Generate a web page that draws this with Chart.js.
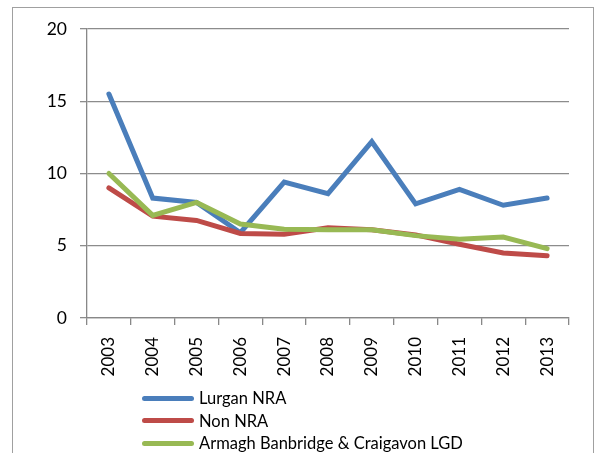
<!DOCTYPE html>
<html>
<head>
<meta charset="utf-8">
<script src="https://cdn.jsdelivr.net/npm/chart.js@4"></script>
<style>
  html, body { margin: 0; padding: 0; background: #fff; }
  body { width: 595px; height: 453px; position: relative; overflow: hidden; font-family: Lato, "Open Sans", sans-serif; }
  #frame { position: absolute; left: 12px; top: 7px; width: 582px; height: 460px; border: 1px solid #a0a0a0; box-sizing: border-box; }
  #wrap { position: absolute; left: 0; top: 0; width: 595px; height: 453px; }
  #legend { position: absolute; left: 142px; top: 387px; font-size: 16.5px; color: #000; }
  .li { height: 22.5px; display: flex; align-items: center; }
  .sw { width: 52px; height: 5px; border-radius: 3px; margin-right: 5px; }
</style>
</head>
<body>
<div id="frame"></div>
<div id="wrap"><canvas id="c" width="595" height="453"></canvas></div>
<div id="legend"></div>
<script>
const years = ["2003","2004","2005","2006","2007","2008","2009","2010","2011","2012","2013"];
const lurganNRA = [15.5, 8.3, 8.0, 5.9, 9.4, 8.6, 12.2, 7.9, 8.9, 7.8, 8.3];
const nonNRA = [9.0, 7.05, 6.75, 5.85, 5.8, 6.25, 6.1, 5.75, 5.1, 4.5, 4.3];
const abcLGD = [10.0, 7.1, 8.0, 6.5, 6.15, 6.1, 6.1, 5.7, 5.45, 5.6, 4.8];
const seriesNames = ["Lurgan NRA", "Non NRA", "Armagh Banbridge & Craigavon LGD"];
const yTicks = [0, 5, 10, 15, 20];
const colors = ["#4A7EBB", "#BE4B48", "#98B954"];

const seriesData = [lurganNRA, nonNRA, abcLGD];
const FONT = 'Lato, "Open Sans", sans-serif';

new Chart(document.getElementById('c'), {
  type: 'line',
  data: {
    labels: years,
    datasets: seriesData.map((d, i) => ({
      label: seriesNames[i],
      data: d,
      order: seriesData.length - 1 - i,
      borderColor: colors[i],
      backgroundColor: colors[i],
      borderWidth: 5,
      pointRadius: 0,
      tension: 0,
      fill: false,
      borderCapStyle: 'round',
      borderJoinStyle: 'miter'
    }))
  },
  options: {
    responsive: false,
    animation: false,
    devicePixelRatio: 1,
    layout: { padding: { left: 0, right: 26, top: 29, bottom: 0 } },
    plugins: { legend: { display: false }, tooltip: { enabled: false } },
    scales: {
      x: {
        type: 'category',
        offset: true,
        grid: { drawOnChartArea: false, drawTicks: true, tickLength: 7, color: '#888', lineWidth: 1.3, offset: true },
        border: { color: '#888', width: 1.3 },
        ticks: { color: '#000', font: { family: FONT, size: 17 }, minRotation: 90, maxRotation: 90, padding: 12, autoSkip: false },
        afterFit: s => { s.height = 135; }
      },
      y: {
        min: 0, max: 20,
        afterBuildTicks: s => { s.ticks = yTicks.map(v => ({ value: v })); },
        grid: { color: '#8c8c8c', lineWidth: 1.3, drawTicks: true, tickLength: 7 },
        border: { color: '#888', width: 1.3 },
        ticks: { color: '#000', font: { family: FONT, size: 17.5 }, padding: 13 },
        afterFit: s => { s.width = 87; }
      }
    }
  }
});

const lg = document.getElementById('legend');
seriesNames.forEach((n, i) => {
  const row = document.createElement('div');
  row.className = 'li';
  const sw = document.createElement('div');
  sw.className = 'sw';
  sw.style.background = colors[i];
  const t = document.createElement('span');
  t.textContent = n;
  row.appendChild(sw); row.appendChild(t);
  lg.appendChild(row);
});
</script>
</body>
</html>
